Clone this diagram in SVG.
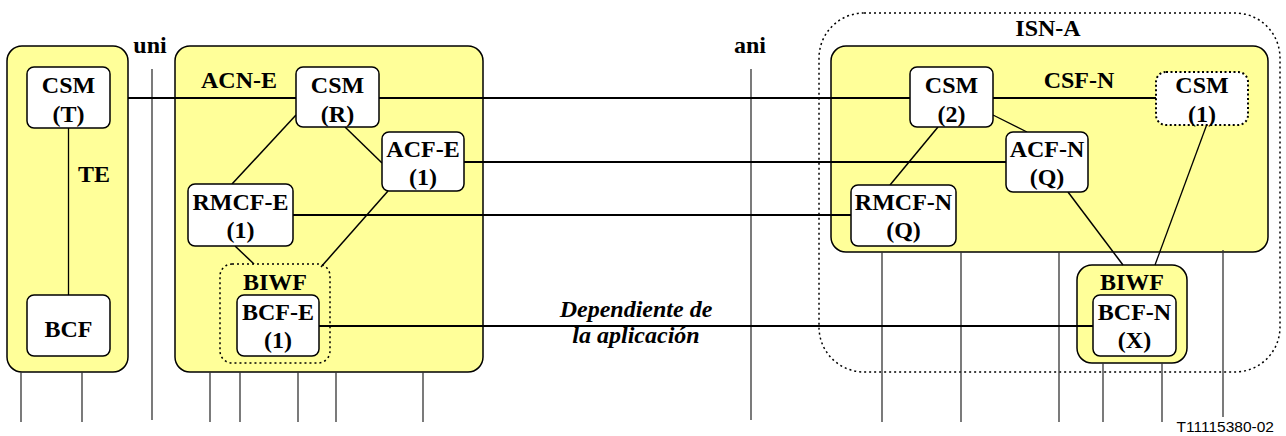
<svg xmlns="http://www.w3.org/2000/svg" width="1286" height="436" viewBox="0 0 1286 436">
<style>
.area{fill:#FFFF99;stroke:#000;stroke-width:1.5}
.node{fill:#fff;stroke:#000;stroke-width:1.5}
.dotnode{fill:#fff;stroke:#000;stroke-width:2;stroke-dasharray:2 2.5}
.dotgrp{fill:none;stroke:#000;stroke-width:1.5;stroke-dasharray:2 3}
.t{font-family:"Liberation Serif","Times New Roman",serif;font-weight:bold;font-size:24px;text-anchor:middle;fill:#000}
.it{font-family:"Liberation Serif","Times New Roman",serif;font-weight:bold;font-style:italic;font-size:24px;text-anchor:middle;fill:#000}
.ref{font-family:"Liberation Sans",Arial,sans-serif;font-size:15.5px;text-anchor:end;fill:#000}
.c{stroke:#000;stroke-width:2;fill:none}
.v{stroke:#333;stroke-width:1.3;fill:none}
</style>
<rect width="1286" height="436" fill="#fff"/>

<g id="areas">
<rect id="te-area" class="area" x="7" y="46" width="121" height="326" rx="15"/>
<rect id="acne-area" class="area" x="175" y="46" width="308" height="326" rx="15"/>
<rect id="isna" class="dotgrp" x="819" y="13" width="461" height="359" rx="45"/>
<rect id="csfn-area" class="area" x="831" y="46" width="437" height="206" rx="15"/>
<rect id="biwfn-area" class="area" x="1077" y="265" width="110" height="98" rx="15"/>
<rect id="biwfe" class="dotgrp" x="220" y="264" width="110" height="99" rx="12"/>
</g>

<g id="verticals">
<line class="v" x1="152" y1="69" x2="152" y2="420"/>
<line class="v" x1="751" y1="69" x2="751" y2="420"/>
<line class="v" x1="21" y1="372" x2="21" y2="422"/>
<line class="v" x1="82" y1="372" x2="82" y2="422"/>
<line class="v" x1="210" y1="372" x2="210" y2="422"/>
<line class="v" x1="240" y1="372" x2="240" y2="422"/>
<line class="v" x1="298" y1="372" x2="298" y2="422"/>
<line class="v" x1="336" y1="372" x2="336" y2="422"/>
<line class="v" x1="423" y1="372" x2="423" y2="422"/>
<line class="v" x1="882" y1="252" x2="882" y2="422"/>
<line class="v" x1="961" y1="252" x2="961" y2="422"/>
<line class="v" x1="1059" y1="252" x2="1059" y2="422"/>
<line class="v" x1="1223" y1="250" x2="1223" y2="417"/>
<line class="v" x1="1103" y1="363" x2="1103" y2="422"/>
<line class="v" x1="1162" y1="363" x2="1162" y2="422"/>
</g>

<g id="connectors">
<line class="c" x1="128" y1="98" x2="296" y2="98"/>
<line class="c" x1="379" y1="98" x2="910" y2="98"/>
<line class="c" x1="993" y1="98" x2="1156" y2="98"/>
<line class="c" x1="464" y1="162" x2="1006" y2="162"/>
<line class="c" x1="293" y1="215" x2="851" y2="215"/>
<line class="c" x1="319" y1="326" x2="1093" y2="326"/>
<line class="c" x1="68.5" y1="128" x2="68.5" y2="295" style="stroke-width:1.3"/>
<line class="c" x1="296" y1="115" x2="232" y2="184" style="stroke-width:1.5"/>
<line class="c" x1="345" y1="127" x2="382" y2="163" style="stroke-width:1.5"/>
<line class="c" x1="388" y1="191" x2="321" y2="267" style="stroke-width:1.5"/>
<line class="c" x1="235" y1="246" x2="254" y2="264" style="stroke-width:1.5"/>
<line class="c" x1="993" y1="115" x2="1027" y2="132" style="stroke-width:1.3"/>
<line class="c" x1="938" y1="127" x2="890" y2="185" style="stroke-width:1.5"/>
<line class="c" x1="1068" y1="192" x2="1123" y2="265" style="stroke-width:1.5"/>
<line class="c" x1="1207" y1="124" x2="1155" y2="265" style="stroke-width:1.3"/>
</g>

<g id="csm-t"><rect class="node" x="27" y="67" width="83" height="61" rx="7"/><text class="t" x="68.5" y="93">CSM</text><text class="t" x="68.5" y="122">(T)</text></g>
<g id="bcf"><rect class="node" x="27" y="295" width="83" height="61" rx="7"/><text class="t" x="68.5" y="337">BCF</text></g>
<g id="csm-r"><rect class="node" x="296" y="67" width="83" height="60" rx="7"/><text class="t" x="337.5" y="93">CSM</text><text class="t" x="337.5" y="122">(R)</text></g>
<g id="acf-e"><rect class="node" x="382" y="132" width="82" height="59" rx="7"/><text class="t" x="423" y="157">ACF-E</text><text class="t" x="423" y="185">(1)</text></g>
<g id="rmcf-e"><rect class="node" x="188" y="184" width="105" height="62" rx="7"/><text class="t" x="240.5" y="210">RMCF-E</text><text class="t" x="240.5" y="238">(1)</text></g>
<g id="bcf-e"><rect class="node" x="237" y="295" width="82" height="61" rx="7"/><text class="t" x="278" y="320">BCF-E</text><text class="t" x="278" y="348">(1)</text></g>
<g id="csm-2"><rect class="node" x="910" y="67" width="83" height="60" rx="7"/><text class="t" x="951.5" y="93">CSM</text><text class="t" x="951.5" y="122">(2)</text></g>
<g id="csm-1"><rect class="dotnode" x="1156" y="72" width="92" height="53" rx="10"/><text class="t" x="1202" y="93">CSM</text><text class="t" x="1202" y="122">(1)</text></g>
<g id="acf-n"><rect class="node" x="1006" y="132" width="82" height="60" rx="7"/><text class="t" x="1047" y="157">ACF-N</text><text class="t" x="1047" y="185">(Q)</text></g>
<g id="rmcf-n"><rect class="node" x="851" y="185" width="105" height="61" rx="7"/><text class="t" x="903.5" y="210">RMCF-N</text><text class="t" x="903.5" y="238">(Q)</text></g>
<g id="bcf-n"><rect class="node" x="1093" y="295" width="83" height="61" rx="7"/><text class="t" x="1134.5" y="320">BCF-N</text><text class="t" x="1134.5" y="348">(X)</text></g>

<g id="labels">
<text class="t" x="94" y="182">TE</text>
<text class="t" x="150" y="53">uni</text>
<text class="t" x="750" y="53">ani</text>
<text class="t" x="239" y="88">ACN-E</text>
<text class="t" x="275" y="290">BIWF</text>
<text class="t" x="1048" y="36">ISN-A</text>
<text class="t" x="1079" y="88">CSF-N</text>
<text class="t" x="1132" y="290">BIWF</text>
<text class="it" x="636" y="317">Dependiente de</text>
<text class="it" x="636" y="343">la aplicación</text>
<text class="ref" x="1274" y="432">T11115380-02</text>
</g>
</svg>
